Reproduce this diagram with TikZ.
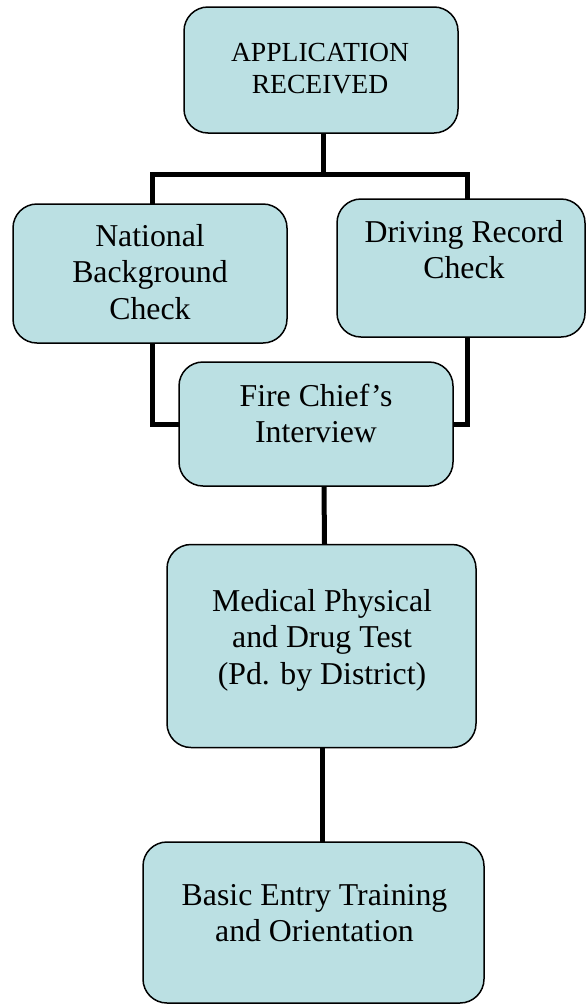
\documentclass[tikz,border=0pt]{standalone}
\usepackage{fontspec}
\setmainfont{Liberation Serif}
\usetikzlibrary{backgrounds}
\definecolor{boxfill}{RGB}{187,224,227}
\tikzset{
  box/.style={draw=black, line width=1.5pt, fill=boxfill, rounded corners=24pt,
              inner sep=0pt, rectangle},
  txt/.style={anchor=north, align=center, inner sep=0pt,
              font=\fontsize{31.8}{36.6}\selectfont},
  smalltxt/.style={anchor=north, align=center, inner sep=0pt,
              font=\fontsize{27.6}{32.3}\selectfont},
  conn/.style={line width=5pt, line join=miter, line cap=rect}
}
\begin{document}
\begin{tikzpicture}[x=1pt,y=-1pt]
\useasboundingbox (0,0) rectangle (586,1007);
\coordinate (jt) at (323,174);

\node[box, minimum width=274pt, minimum height=126pt] (b1) at (321,70) {};
\node[box, minimum width=274pt, minimum height=139pt] (b2) at (150,273.5) {};
\node[box, minimum width=248pt, minimum height=138pt] (b3) at (461,268) {};
\node[box, minimum width=274pt, minimum height=124pt] (b4) at (316,424) {};
\node[box, minimum width=309pt, minimum height=203pt] (b5) at (321.5,646) {};
\node[box, minimum width=341pt, minimum height=161pt] (b6) at (313.5,922.5) {};

\begin{pgfonlayer}{background}
\draw[conn] ([xshift=2pt]b1.south) -- (jt);
\draw[conn] ([xshift=2pt]b2.north) |- (jt) -| ([xshift=6pt]b3.north);
\draw[conn] ([xshift=2pt]b2.south) |- (b4.west);
\draw[conn] ([xshift=6pt]b3.south) |- (b4.east);
\draw[conn] ([xshift=8pt]b4.south) -- ([xshift=3pt]b5.north);
\draw[conn] ([xshift=0.5pt]b5.south) -- ([xshift=8.5pt]b6.north);
\end{pgfonlayer}

\node[smalltxt] (t1) at (320,42.8) {APPLICATION\\RECEIVED};
\node[txt] (t2) at (150,223.8) {National\\Background\\Check};
\node[txt] (t3) at (464,219.8) {Driving Record\\Check};
\node[txt] (t4) at (316,383.8) {Fire Chief’s\\Interview};
\node[txt] (t5) at (322,588.8) {Medical Physical\\and Drug Test\\(Pd. by District)};
\node[txt] (t6) at (314.5,883.8) {Basic Entry Training\\and Orientation};
\end{tikzpicture}
\end{document}
